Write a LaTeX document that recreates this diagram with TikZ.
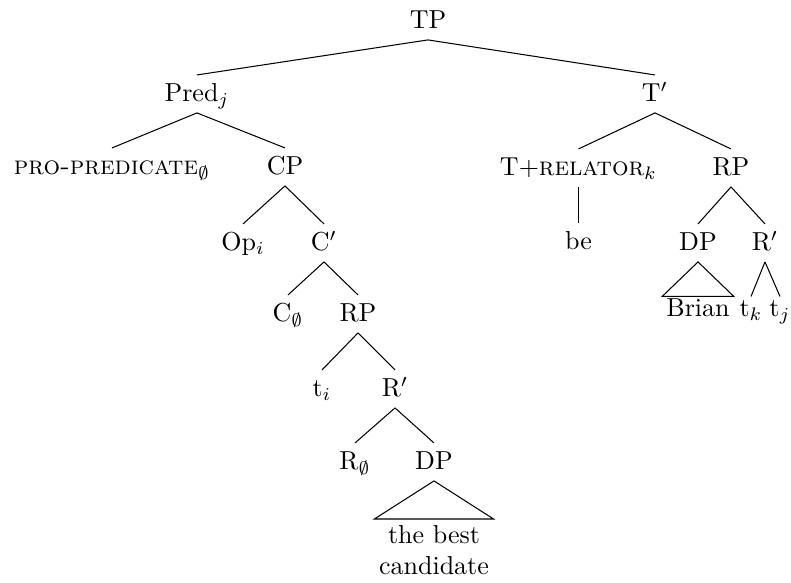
\documentclass[tikz,border=0pt]{standalone}
\usepackage{fontspec}
\begin{document}
\begin{tikzpicture}[x=0.3846pt, y=-0.3846pt,
  lab/.style={anchor=base, inner xsep=1.5pt, inner ysep=3.3pt, text height=6.9pt, text depth=0.7pt},
  leaf/.style={anchor=base, inner xsep=1.4pt, inner ysep=0.8pt, text height=6.9pt, text depth=0.7pt},
  branch/.style={line width=0.4pt, line join=miter}]
\useasboundingbox (0,0) rectangle (791,583);

% root
\node[lab] (tp) at (428,29) {TP};

% left subtree: predicate
\node[lab] (pred)  at (197,102) {Pred$_j$};
\node[lab] (pro)   at (112,175) {\textsc{pro-predicate}$_\emptyset$};
\node[lab] (cp)    at (285,175) {CP};
\node[lab] (op)    at (243,251) {Op$_i$};
\node[lab] (cbar)  at (324,251) {C$'$};
\node[lab] (c0)    at (288,322) {C$_\emptyset$};
\node[lab] (rp1)   at (358,322) {RP};
\node[lab] (ti)    at (322,397) {t$_i$};
\node[lab] (rbar1) at (395,397) {R$'$};
\node[lab] (r0)    at (355,470) {R$_\emptyset$};
\node[lab] (dp1)   at (434,470) {DP};
\node[anchor=north, align=center, inner xsep=1.6pt, inner ysep=2.3pt] (cand) at (434,519) {the best\\candidate};

% right subtree: T-bar
\node[lab] (tbar)  at (655,102) {T$'$};
\node[lab] (trel)  at (578.5,176) {T+\textsc{relator}$_k$};
\node[lab] (rp2)   at (731,176) {RP};
\node[lab] (be)    at (578.5,250) {be};
\node[lab] (dp2)   at (698,251) {DP};
\node[lab] (rbar2) at (765,251) {R$'$};
\node[leaf] (brian) at (698,317) {Brian};
\node[leaf] (tk)    at (751,317) {t$_k$};
\node[leaf] (tj)    at (780,317) {t$_j$};

% branches
\draw[branch] (tp.south) -- (pred.north);
\draw[branch] (tp.south) -- (tbar.north);
\draw[branch] (pred.south) -- (pro.north);
\draw[branch] (pred.south) -- (cp.north);
\draw[branch] (cp.south) -- (op.north);
\draw[branch] (cp.south) -- (cbar.north);
\draw[branch] (cbar.south) -- (c0.north);
\draw[branch] (cbar.south) -- (rp1.north);
\draw[branch] (rp1.south) -- (ti.north);
\draw[branch] (rp1.south) -- (rbar1.north);
\draw[branch] (rbar1.south) -- (r0.north);
\draw[branch] (rbar1.south) -- (dp1.north);
\draw[branch] (dp1.south) -- (cand.north west) -- (cand.north east) -- cycle;

\draw[branch] (tbar.south) -- (trel.north);
\draw[branch] (tbar.south) -- (rp2.north);
\draw[branch] (trel.south) -- (be.north);
\draw[branch] (rp2.south) -- (dp2.north);
\draw[branch] (rp2.south) -- (rbar2.north);
\draw[branch] (dp2.south) -- (brian.north west) -- (brian.north east) -- cycle;
\draw[branch] (rbar2.south) -- (tk.north);
\draw[branch] (rbar2.south) -- (tj.north);
\end{tikzpicture}
\end{document}
